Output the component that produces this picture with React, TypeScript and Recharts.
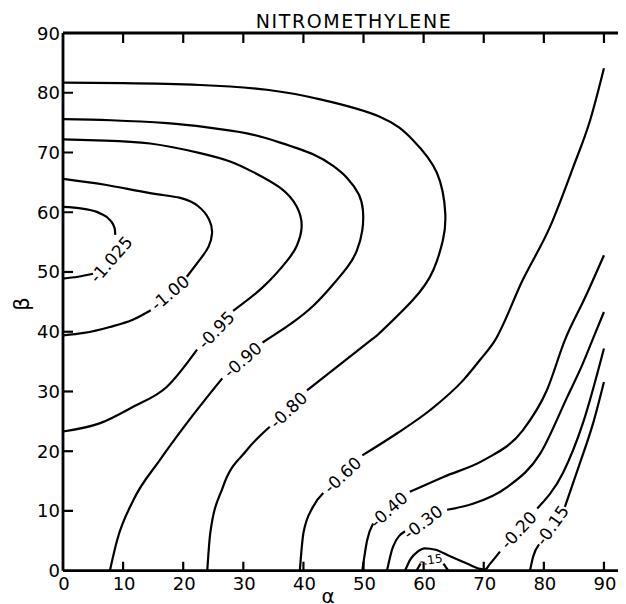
import React from 'react';
import { ComposedChart, Line, Scatter, XAxis, YAxis } from 'recharts';

// Energy contours over (alpha, beta); each contour is split where its label sits.
const c1025a = [{ x: 0, y: 60.9 }, { x: 3.2, y: 60.6 }, { x: 6.2, y: 59.8 }, { x: 7.9, y: 58.6 }, { x: 8.6, y: 57.3 }, { x: 8.7, y: 56.2 }];
const c1025b = [{ x: 0, y: 48.9 }, { x: 2.5, y: 49.2 }, { x: 5.0, y: 49.7 }];

const c100a = [
  { x: 0, y: 65.6 }, { x: 7, y: 64.6 }, { x: 14.5, y: 63.2 }, { x: 19.5, y: 62.4 }, { x: 22.5, y: 61.0 },
  { x: 24.3, y: 58.8 }, { x: 24.8, y: 56.5 }, { x: 24.2, y: 54.2 }, { x: 22.8, y: 52.1 }, { x: 20.6, y: 49.2 },
];
const c100b = [{ x: 0, y: 39.4 }, { x: 3.5, y: 39.8 }, { x: 7.8, y: 40.8 }, { x: 11.6, y: 42.0 }, { x: 14.6, y: 43.6 }];

const c095a = [
  { x: 0, y: 72.2 }, { x: 7, y: 72.0 }, { x: 14.5, y: 71.5 }, { x: 22.8, y: 69.9 }, { x: 27.8, y: 68.5 },
  { x: 31.5, y: 66.8 }, { x: 36.1, y: 64.1 }, { x: 38.9, y: 60.9 }, { x: 39.7, y: 57.5 }, { x: 38.9, y: 54.4 },
  { x: 37.3, y: 51.9 }, { x: 33.3, y: 47.5 }, { x: 28.3, y: 43.5 },
];
const c095b = [{ x: 0, y: 23.3 }, { x: 6.2, y: 24.7 }, { x: 11.6, y: 27.4 }, { x: 17.3, y: 30.8 }, { x: 22.3, y: 37.0 }];

const c090a = [
  { x: 0, y: 75.6 }, { x: 8, y: 75.4 }, { x: 17.3, y: 74.9 }, { x: 24, y: 74.2 }, { x: 30.6, y: 73.2 },
  { x: 36, y: 71.7 }, { x: 41.6, y: 69.7 }, { x: 45, y: 67.7 }, { x: 47.3, y: 65.7 }, { x: 49.2, y: 63.0 },
  { x: 49.9, y: 60.3 }, { x: 49.8, y: 57.0 }, { x: 48.9, y: 53.6 }, { x: 47.3, y: 50.8 }, { x: 44.5, y: 47.4 },
  { x: 41.6, y: 44.3 }, { x: 38, y: 41.4 }, { x: 33.2, y: 38.2 },
];
const c090b = [{ x: 7.8, y: 0 }, { x: 9.0, y: 5.1 }, { x: 11.7, y: 11.8 }, { x: 16.1, y: 18.5 }, { x: 20.6, y: 24.7 }, { x: 26.5, y: 32.2 }];

const c080a = [
  { x: 0, y: 81.7 }, { x: 10, y: 81.6 }, { x: 22.8, y: 81.3 }, { x: 33.9, y: 80.5 }, { x: 42.8, y: 78.9 },
  { x: 52.7, y: 76.0 }, { x: 58.2, y: 72.1 }, { x: 62.2, y: 66.6 }, { x: 63.6, y: 59.8 }, { x: 63.2, y: 55.3 },
  { x: 61.6, y: 50.3 }, { x: 58.2, y: 45.3 }, { x: 52.7, y: 39.8 }, { x: 50.6, y: 38.1 }, { x: 40.6, y: 30.2 },
];
const c080b = [{ x: 24.0, y: 0 }, { x: 24.5, y: 6.3 }, { x: 26.6, y: 14.0 }, { x: 30.6, y: 20.2 }, { x: 34.4, y: 24.1 }];

const c060a = [{ x: 39.4, y: 0 }, { x: 40.0, y: 6.3 }, { x: 41.6, y: 10.7 }, { x: 43.3, y: 13.0 }];
const c060b = [
  { x: 49.8, y: 19.3 }, { x: 55.6, y: 23.0 }, { x: 61.1, y: 26.9 }, { x: 66.6, y: 31.9 }, { x: 69.4, y: 35.3 },
  { x: 71.9, y: 38.6 }, { x: 76.5, y: 48.7 }, { x: 81.0, y: 57.5 }, { x: 84.9, y: 67.6 }, { x: 87.7, y: 75.4 }, { x: 90, y: 84.1 },
];

const c040a = [{ x: 49.8, y: 0 }, { x: 50.6, y: 5.1 }, { x: 51.6, y: 7.9 }];
const c040b = [
  { x: 57.7, y: 13.2 }, { x: 63.3, y: 15.7 }, { x: 70.0, y: 18.5 }, { x: 76.5, y: 23.5 },
  { x: 80.5, y: 30.2 }, { x: 83.5, y: 38.6 }, { x: 86.9, y: 45.8 }, { x: 90, y: 52.8 },
];

const c030a = [{ x: 53.9, y: 0 }, { x: 54.9, y: 4.0 }, { x: 56.9, y: 6.6 }];
const c030b = [
  { x: 63.9, y: 10.2 }, { x: 68.2, y: 11.2 }, { x: 73.9, y: 14.0 }, { x: 79.4, y: 19.6 },
  { x: 83.9, y: 29.1 }, { x: 86.5, y: 34.7 }, { x: 88.4, y: 39.4 }, { x: 90, y: 43.3 },
];

const c020a = [
  { x: 56.9, y: 0 }, { x: 57.8, y: 1.9 }, { x: 59, y: 3.2 }, { x: 60.2, y: 3.75 }, { x: 62, y: 3.5 }, { x: 64.4, y: 2.4 },
  { x: 67.2, y: 1.2 }, { x: 69.4, y: 0.3 }, { x: 70.2, y: 0.2 }, { x: 71.0, y: 1.1 }, { x: 72.7, y: 3.2 },
];
const c020b = [{ x: 78.9, y: 10.4 }, { x: 83.2, y: 16.4 }, { x: 86.5, y: 24.7 }, { x: 90, y: 37.2 }];

const c015a = [{ x: 77.7, y: 0 }, { x: 78.2, y: 2.3 }, { x: 79.2, y: 4.4 }];
const c015b = [{ x: 83.5, y: 10.7 }, { x: 86.0, y: 18.0 }, { x: 88.2, y: 24.7 }, { x: 90, y: 31.6 }];

const c015loopA = [{ x: 58.8, y: 0 }, { x: 59.5, y: 1.2 }];
const c015loopB = [{ x: 63.3, y: 1.2 }, { x: 64.1, y: 0 }];

const contourLabels = [
  { text: '-1.025', x: 8.0, y: 52.1 },
  { text: '-1.00', x: 17.8, y: 46.5 },
  { text: '-0.95', x: 25.5, y: 40.3 },
  { text: '-0.90', x: 29.9, y: 35.3 },
  { text: '-0.80', x: 37.5, y: 26.9 },
  { text: '-0.60', x: 46.5, y: 16.0 },
  { text: '-0.40', x: 54.2, y: 10.2 },
  { text: '-0.30', x: 59.9, y: 8.1 },
  { text: '-0.20', x: 75.8, y: 6.8 },
  { text: '-0.15', x: 81.4, y: 7.6 },
];
const loopLabel = [{ text: '-.15', x: 61.2, y: 1.8 }];

const X_MAX = 94.5;
const xTicks = [0, 10, 20, 30, 40, 50, 60, 70, 80, 90];
const yTicks = [0, 10, 20, 30, 40, 50, 60, 70, 80, 90];
const topTicks = [10, 20, 30, 40, 50, 60, 70, 80, 90];
const sideTicks = [10, 20, 30, 40, 50, 60, 70, 80];

// inward tick marks on all four sides of the frame
const bottomMarks = topTicks.map((t) => ({ x: t, y: 0 }));
const topMarks = topTicks.map((t) => ({ x: t, y: 90 }));
const leftMarks = sideTicks.map((t) => ({ x: 0, y: t }));
const rightMarks = sideTicks.map((t) => ({ x: X_MAX, y: t }));

const FONT = '"DejaVu Sans", sans-serif';

// text rotation along the contour at each label
const LABEL_ANGLE: Record<string, number> = {
  '-1.025': -49, '-1.00': -40, '-0.95': -46, '-0.90': -41, '-0.80': -43,
  '-0.60': -43, '-0.40': -42, '-0.30': -37, '-0.20': -47, '-0.15': -55, '-.15': -8,
};

const segments: { data: { x: number; y: number }[]; curve: any }[] = [
  { data: c1025a, curve: 'monotoneX' }, { data: c1025b, curve: 'monotoneX' },
  { data: c100a, curve: 'natural' }, { data: c100b, curve: 'monotoneX' },
  { data: c095a, curve: 'natural' }, { data: c095b, curve: 'monotoneX' },
  { data: c090a, curve: 'natural' }, { data: c090b, curve: 'monotoneX' },
  { data: c080a, curve: 'natural' }, { data: c080b, curve: 'monotoneX' },
  { data: c060a, curve: 'monotoneX' }, { data: c060b, curve: 'monotoneX' },
  { data: c040a, curve: 'monotoneX' }, { data: c040b, curve: 'monotoneX' },
  { data: c030a, curve: 'monotoneX' }, { data: c030b, curve: 'monotoneX' },
  { data: c020a, curve: 'monotoneX' }, { data: c020b, curve: 'monotoneX' },
  { data: c015a, curve: 'monotoneX' }, { data: c015b, curve: 'monotoneX' },
  { data: c015loopA, curve: 'linear' }, { data: c015loopB, curve: 'linear' },
];

const makeLabel = (size: number) => (props: any) => {
  const { cx, cy, payload } = props;
  const angle = LABEL_ANGLE[payload.text] || 0;
  return (
    <text
      x={cx}
      y={cy}
      transform={`rotate(${angle} ${cx} ${cy})`}
      textAnchor="middle"
      dominantBaseline="central"
      fontSize={size}
      fontFamily={FONT}
      fill="#000"
    >
      {payload.text}
    </text>
  );
};

const makeMark = (dx: number, dy: number) => (props: any) => {
  const { cx, cy } = props;
  return <path d={`M${cx},${cy}L${cx + dx},${cy + dy}`} stroke="#000" strokeWidth={2.2} fill="none" />;
};

// tickSize/tickMargin are 0 so x,y sit on the axis line
const LeftTickLabel = (props: any) => {
  const { x, y, payload } = props;
  return (
    <text x={x - 3} y={y} textAnchor="end" dominantBaseline="central" fontSize={18} fontFamily={FONT} fill="#000">
      {payload.value}
    </text>
  );
};
const BottomTickLabel = (props: any) => {
  const { x, y, payload } = props;
  return (
    <text x={x + 1} y={y + 19} textAnchor="middle" fontSize={18} fontFamily={FONT} fill="#000">
      {payload.value}
    </text>
  );
};

const AxisTitles = () => (
  <g>
    <text x={346} y={20} textAnchor="middle" fontSize={19} letterSpacing={1.6} fontFamily={FONT} fill="#000">
      NITROMETHYLENE
    </text>
    <text x={14} y={296} transform="rotate(-90 14 296)" textAnchor="middle" dominantBaseline="central" fontSize={21} fontFamily={FONT} fill="#000">
      β
    </text>
  </g>
);

const AlphaText = () => (
  <text x={320} y={595} textAnchor="middle" fontSize={20} fontFamily={FONT} fill="#000">
    α
  </text>
);

const axisLine = { stroke: '#000', strokeWidth: 2.8 };

const App: React.FC = () => (
  <div style={{ width: 618, height: 596, overflow: 'hidden', background: '#fff' }}>
    <ComposedChart width={640} height={604} margin={{ top: 24, right: 16, bottom: 0, left: 0 }}>
      <XAxis
        dataKey="x"
        type="number"
        domain={[0, X_MAX]}
        ticks={xTicks}
        interval={0}
        allowDataOverflow
        height={41.3}
        tickSize={0}
        tickMargin={0}
        axisLine={axisLine}
        tickLine={false}
        tick={<BottomTickLabel />}
        label={<AlphaText />}
      />
      <XAxis
        xAxisId="top"
        orientation="top"
        dataKey="x"
        type="number"
        domain={[0, X_MAX]}
        ticks={topTicks}
        allowDataOverflow
        height={1}
        axisLine={axisLine}
        tickLine={false}
        tick={false}
      />
      <YAxis
        type="number"
        domain={[0, 90]}
        ticks={yTicks}
        interval={0}
        allowDataOverflow
        width={55}
        tickSize={0}
        tickMargin={0}
        axisLine={axisLine}
        tickLine={false}
        tick={<LeftTickLabel />}
        label={<AxisTitles />}
      />
      <YAxis
        yAxisId="right"
        orientation="right"
        type="number"
        domain={[0, 90]}
        ticks={sideTicks}
        allowDataOverflow
        width={1}
        axisLine={axisLine}
        tickLine={false}
        tick={false}
      />
      {segments.map((s, i) => (
        <Line
          key={`seg-${i}`}
          data={s.data}
          dataKey="y"
          type={s.curve}
          stroke="#000"
          strokeWidth={2.2}
          dot={false}
          activeDot={false}
          isAnimationActive={false}
        />
      ))}
      <Scatter data={bottomMarks} dataKey="y" shape={makeMark(0, -9)} isAnimationActive={false} />
      <Scatter data={topMarks} dataKey="y" shape={makeMark(0, 10)} isAnimationActive={false} />
      <Scatter data={leftMarks} dataKey="y" shape={makeMark(10, 0)} isAnimationActive={false} />
      <Scatter data={rightMarks} dataKey="y" shape={makeMark(-10, 0)} isAnimationActive={false} />
      <Scatter data={contourLabels} dataKey="y" shape={makeLabel(17)} isAnimationActive={false} />
      <Scatter
        data={loopLabel}
        dataKey="y"
        xAxisId="top"
        yAxisId="right"
        shape={makeLabel(12)}
        isAnimationActive={false}
      />
    </ComposedChart>
  </div>
);

export default App;
